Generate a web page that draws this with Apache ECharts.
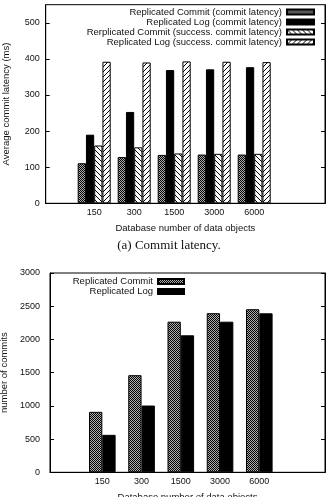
<!DOCTYPE html>
<html>
<head>
<meta charset="utf-8">
<script src="https://cdn.jsdelivr.net/npm/echarts@6/dist/echarts.min.js"></script>
<style>
  html, body { margin: 0; padding: 0; background: #fff; }
  #main { width: 330px; height: 497px; }
</style>
</head>
<body>
<div id="main"></div>
<script>
// database sizes (x categories)
const sizes = ['150', '300', '1500', '3000', '6000']
const groupPos = [0, 1, 2, 3, 4]

// (a) commit latency, ms
const rcLatency = [111, 128, 134, 135, 135]
const rlLatency = [190, 253, 369, 371, 377]
const rcSuccess = [160, 155, 138, 137, 137]
const rlSuccess = [392, 390, 393, 392, 391]
const latencyTicks = [0, 100, 200, 300, 400, 500]

// (b) number of commits
const rcCommits = [910, 1462, 2267, 2395, 2455]
const rlCommits = [564, 1005, 2062, 2267, 2393]
const commitTicks = [0, 500, 1000, 1500, 2000, 2500, 3000]

const FONT = 'Liberation Sans'

// fill patterns like the gnuplot ones
function makePattern(kind) {
  const s = kind === 'checker' ? 2 : 5
  const c = document.createElement('canvas')
  c.width = s
  c.height = s
  const ctx = c.getContext('2d')
  if (kind === 'checker') {
    ctx.fillStyle = '#b0b0b0'
    ctx.fillRect(0, 0, 2, 2)
    ctx.fillStyle = '#000'
    ctx.fillRect(0, 0, 1, 1)
    ctx.fillRect(1, 1, 1, 1)
  } else {
    ctx.fillStyle = '#fff'
    ctx.fillRect(0, 0, s, s)
    ctx.strokeStyle = '#000'
    ctx.lineWidth = 1
    ctx.beginPath()
    for (let k = -1; k <= 1; k++) {
      if (kind === 'back') { // "\\\\"
        ctx.moveTo(k * s, 0)
        ctx.lineTo(k * s + s, s)
      } else { // "////"
        ctx.moveTo(k * s + s, 0)
        ctx.lineTo(k * s, s)
      }
    }
    ctx.stroke()
  }
  return { image: c, repeat: 'repeat' }
}

const checker = makePattern('checker')
const back = makePattern('back')
const fwd = makePattern('fwd')

function pairs(vals) {
  return vals.map((v, i) => [groupPos[i], v])
}

function bar(name, vals, fill, grid, width) {
  return {
    name: name,
    type: 'bar',
    xAxisIndex: grid,
    yAxisIndex: grid * 2,
    data: pairs(vals),
    barWidth: width,
    barGap: '0%',
    itemStyle: { color: fill, borderColor: '#000', borderWidth: 1 },
    emphasis: { disabled: true },
    animation: false
  }
}

function xAxis(grid, min, max) {
  return {
    type: 'value',
    gridIndex: grid,
    min: min,
    max: max,
    name: 'Database number of data objects',
    nameLocation: 'middle',
    nameGap: 20,
    nameTextStyle: { fontFamily: FONT, fontSize: 9.5, color: '#111' },
    axisLine: { onZero: false, lineStyle: { color: '#000', width: 1 } },
    axisTick: { show: false },
    splitLine: { show: false },
    axisLabel: {
      customValues: groupPos,
      formatter: v => sizes[v],
      margin: 5,
      fontFamily: FONT,
      fontSize: 9,
      color: '#111'
    }
  }
}

function yAxes(grid, max, ticks, title, gap, margin) {
  return [
    {
      type: 'value',
      gridIndex: grid,
      position: 'left',
      min: 0,
      max: max,
      name: title,
      nameLocation: 'middle',
      nameGap: gap,
      nameTextStyle: { fontFamily: FONT, fontSize: 9.5, color: '#111' },
      axisLine: { show: true, onZero: false, lineStyle: { color: '#000', width: 1 } },
      axisTick: { show: true, inside: true, length: 4, customValues: ticks, lineStyle: { color: '#000' } },
      axisLabel: {
        customValues: ticks,
        formatter: v => String(v),
        margin: margin,
        fontFamily: FONT,
        fontSize: 9,
        color: '#111'
      },
      splitLine: { show: false }
    },
    {
      type: 'value',
      gridIndex: grid,
      position: 'right',
      min: 0,
      max: max,
      axisLine: { show: true, onZero: false, lineStyle: { color: '#000', width: 1 } },
      axisTick: { show: true, inside: true, length: 4, customValues: ticks, lineStyle: { color: '#000' } },
      axisLabel: { show: false },
      splitLine: { show: false }
    }
  ]
}

const chart = echarts.init(document.getElementById('main'), null, { renderer: 'canvas' })

const option = {
  animation: false,
  backgroundColor: '#fff',
  title: {
    text: '(a) Commit latency.',
    left: 169,
    top: 239,
    textAlign: 'center',
    padding: 0,
    textStyle: { fontFamily: 'Liberation Serif', fontSize: 13, fontWeight: 'normal', color: '#111' }
  },
  grid: [
    { left: 45.7, top: 4.7, right: 5, height: 198.6, outerBoundsMode: 'none', containLabel: false, show: true, borderColor: '#000', borderWidth: 1 },
    { left: 50, top: 273, right: 5, height: 199.3, outerBoundsMode: 'none', containLabel: false, show: true, borderColor: '#000', borderWidth: 1 }
  ],
  legend: [
    {
      data: [
        'Replicated Commit (commit latency)',
        'Replicated Log (commit latency)',
        'Rerplicated Commit (success. commit latency)',
        'Replicated Log (success. commit latency)'
      ],
      orient: 'vertical',
      align: 'right',
      right: 15,
      top: 7,
      padding: 0,
      itemGap: 0,
      itemWidth: 27,
      itemHeight: 5,
      icon: 'rect',
      selectedMode: false,
      textStyle: { fontFamily: FONT, fontSize: 9.5, lineHeight: 9.6, color: '#111' }
    },
    {
      data: ['Replicated Commit', 'Replicated Log'],
      orient: 'vertical',
      align: 'right',
      right: 145,
      top: 276.5,
      padding: 0,
      itemGap: 0,
      itemWidth: 26,
      itemHeight: 5,
      icon: 'rect',
      selectedMode: false,
      textStyle: { fontFamily: FONT, fontSize: 9.5, lineHeight: 9.6, color: '#111' }
    }
  ],
  xAxis: [xAxis(0, -1.2125, 5.77), xAxis(1, -1.333, 5.674)],
  yAxis: [
    ...yAxes(0, 550, latencyTicks, 'Average commit latency (ms)', 34, 6),
    ...yAxes(1, 3000, commitTicks, 'number of commits', 40, 10)
  ],
  series: [
    bar('Replicated Commit (commit latency)', rcLatency, checker, 0, 8.25),
    bar('Replicated Log (commit latency)', rlLatency, '#000', 0, 8.25),
    bar('Rerplicated Commit (success. commit latency)', rcSuccess, back, 0, 8.25),
    bar('Replicated Log (success. commit latency)', rlSuccess, fwd, 0, 8.25),
    bar('Replicated Commit', rcCommits, checker, 1, 13.3),
    bar('Replicated Log', rlCommits, '#000', 1, 13.3)
  ]
}

chart.setOption(option)
</script>
</body>
</html>
